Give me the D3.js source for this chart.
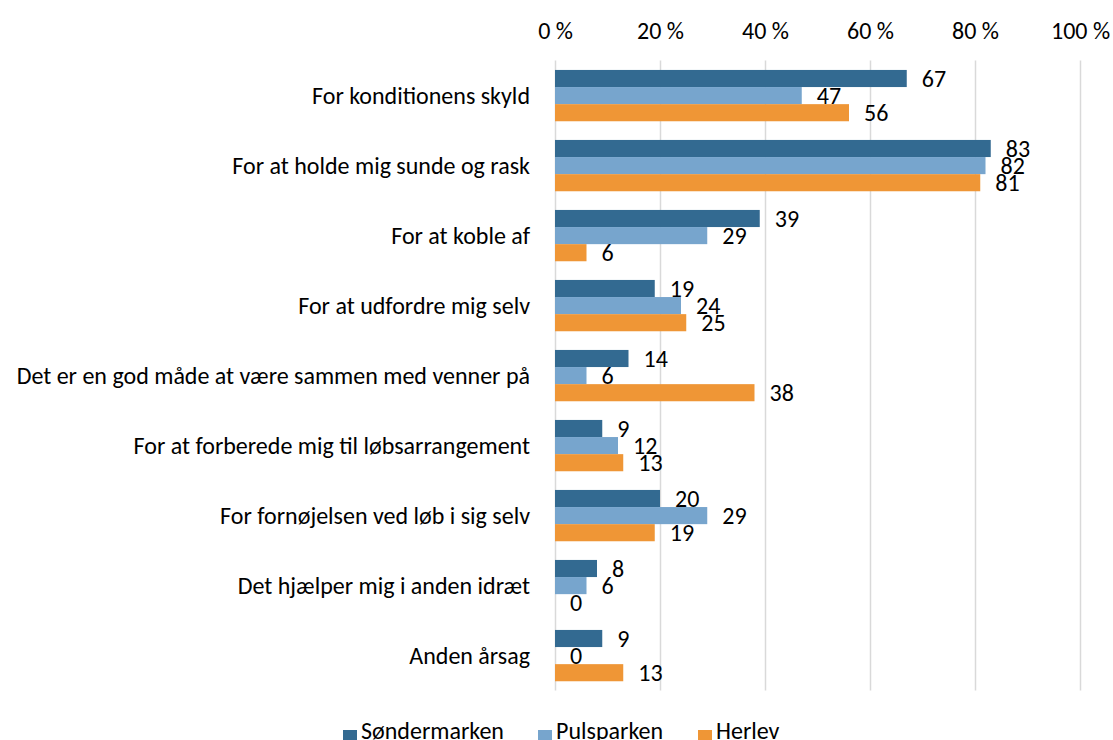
<!DOCTYPE html>
<html lang="da">
<head>
    <meta charset="UTF-8">
    <title>Årsager til at løbe</title>
    <script src="https://d3js.org/d3.v7.min.js"></script>
    <style>
        body {
            margin: 0;
            background: #ffffff;
        }

        svg text {
            font-family: Carlito, Lato, "Open Sans", sans-serif;
            font-size: 24px;
            fill: #000000;
        }

        .grid line {
            stroke: #d9d9d9;
            stroke-width: 1.5px;
        }

        .grid .domain {
            display: none;
        }
    </style>
</head>
<body>
    <div id="chart"></div>

    <script>
        // Data
        const categories = [
            "For konditionens skyld",
            "For at holde mig sunde og rask",
            "For at koble af",
            "For at udfordre mig selv",
            "Det er en god måde at være sammen med venner på",
            "For at forberede mig til løbsarrangement",
            "For fornøjelsen ved løb i sig selv",
            "Det hjælper mig i anden idræt",
            "Anden årsag"
        ];
        const seriesNames = ["Søndermarken", "Pulsparken", "Herlev"];
        const sondermarken = [67, 83, 39, 19, 14, 9, 20, 8, 9];
        const pulsparken = [47, 82, 29, 24, 6, 12, 29, 6, 0];
        const herlev = [56, 81, 6, 25, 38, 13, 19, 0, 13];
        const tickValues = [0, 20, 40, 60, 80, 100];
        const colors = ["#336a91", "#77a5cd", "#ef9636"];

        const allSeries = [sondermarken, pulsparken, herlev];

        const width = 1113, height = 740;
        const plotLeft = 555, plotRight = 1080;
        const plotTop = 60.6, plotBottom = 690.6;
        const fontStack = "Carlito, Lato, 'Open Sans', sans-serif";

        const svg = d3.select("#chart")
            .append("svg")
            .attr("width", width)
            .attr("height", height);

        // Scales
        const xScale = d3.scaleLinear()
            .domain([0, 100])
            .range([plotLeft, plotRight]);

        const yScale = d3.scaleBand()
            .domain(categories)
            .range([plotTop, plotBottom])
            .paddingInner(0.267)
            .paddingOuter(0.1335);

        const ySub = d3.scaleBand()
            .domain(seriesNames)
            .range([0, yScale.bandwidth()]);

        // Gridlines and top axis labels
        const grid = svg.append("g")
            .attr("class", "grid")
            .attr("transform", `translate(0, ${plotTop})`)
            .call(d3.axisTop(xScale)
                .tickValues(tickValues)
                .tickFormat(d => d + " %")
                .tickSize(-(plotBottom - plotTop))
                .tickPadding(22));

        grid.selectAll("text")
            .style("font-family", fontStack)
            .style("font-size", "24px")
            .attr("fill", "#000");

        // Category labels
        svg.append("g")
            .selectAll("text")
            .data(categories)
            .enter()
            .append("text")
            .attr("x", plotLeft - 25)
            .attr("y", d => yScale(d) + yScale.bandwidth() / 2)
            .attr("dy", "0.35em")
            .style("text-anchor", "end")
            .text(d => d);

        // Bars and value labels per series
        allSeries.forEach((values, si) => {
            const name = seriesNames[si];
            const g = svg.append("g");

            g.selectAll("rect")
                .data(values)
                .enter()
                .append("rect")
                .attr("x", xScale(0))
                .attr("y", (d, i) => yScale(categories[i]) + ySub(name))
                .attr("width", d => xScale(d) - xScale(0))
                .attr("height", ySub.bandwidth())
                .attr("fill", colors[si]);

            g.selectAll("text")
                .data(values)
                .enter()
                .append("text")
                .attr("x", d => xScale(d) + 15)
                .attr("y", (d, i) => yScale(categories[i]) + ySub(name) + ySub.bandwidth() / 2)
                .attr("dy", "0.36em")
                .text(d => d);
        });

        // Legend
        const legendX = [343, 538, 698];
        const legend = svg.append("g");
        seriesNames.forEach((name, i) => {
            legend.append("rect")
                .attr("x", legendX[i])
                .attr("y", 730)
                .attr("width", 14)
                .attr("height", 14)
                .attr("fill", colors[i]);
            legend.append("text")
                .attr("x", legendX[i] + 18)
                .attr("y", 739)
                .text(name);
        });
    </script>
</body>
</html>
